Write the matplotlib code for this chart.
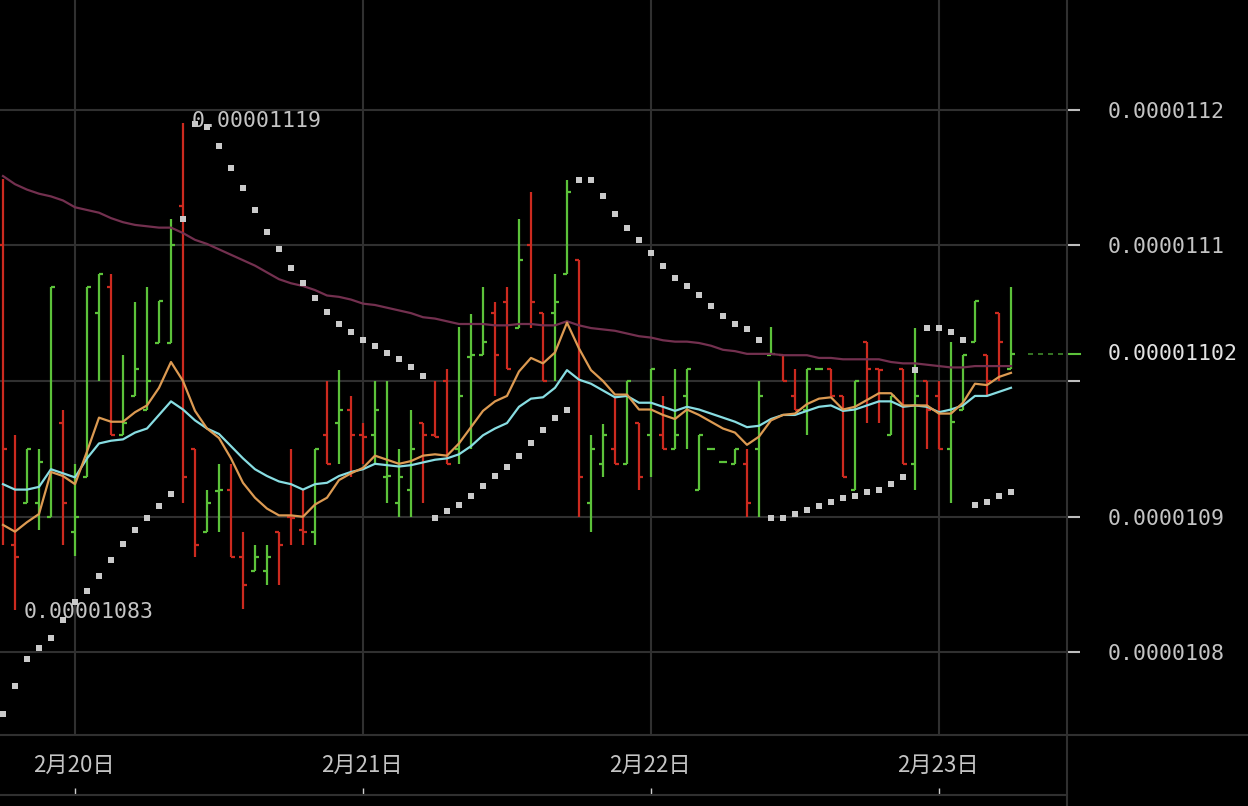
import numpy as np
import pandas as pd
import matplotlib
matplotlib.use("Agg")
import matplotlib.pyplot as plt
import matplotlib.dates as mdates
from matplotlib.lines import Line2D

# hourly OHLC bars, prices in units of 1e-8
opens = [
    1110.0, 1087.9, 1091.0, 1091.0, 1090.0, 1096.9, 1088.9, 1092.9, 1105.0, 1106.9,
    1096.0, 1098.9, 1097.9, 1102.8, 1102.8, 1112.9, 1095.0, 1088.9, 1091.9, 1092.0,
    1087.0, 1086.0, 1086.0, 1088.9, 1090.0, 1089.0, 1088.9, 1096.0, 1096.9, 1097.9,
    1096.0, 1096.0, 1092.9, 1091.0, 1092.0, 1096.9, 1096.0, 1100.0, 1095.0, 1101.8,
    1101.9, 1105.0, 1105.8, 1103.9, 1110.0, 1105.0, 1105.0, 1107.9, 1108.9, 1091.0,
    1093.9, 1095.0, 1093.9, 1096.9, 1096.0, 1096.0, 1095.0, 1098.9, 1092.0, 1095.0,
    1094.0, 1093.9, 1093.9, 1095.0, 1101.9, 1101.9, 1098.9, 1097.9, 1100.9, 1100.9,
    1098.9, 1092.0, 1102.9, 1100.9, 1096.0, 1100.9, 1093.9, 1100.0, 1098.9, 1095.0,
    1097.9, 1102.9, 1101.9, 1105.0, 1100.9]
highs = [
    1114.9, 1096.0, 1095.0, 1095.0, 1106.9, 1097.9, 1093.9, 1106.9, 1107.9, 1107.9,
    1101.9, 1105.8, 1106.9, 1105.9, 1111.9, 1119.0, 1095.0, 1092.0, 1093.9, 1093.9,
    1088.9, 1087.9, 1087.9, 1088.9, 1095.0, 1092.0, 1095.0, 1100.0, 1100.8, 1098.9,
    1096.9, 1100.0, 1100.0, 1095.0, 1097.9, 1096.9, 1100.0, 1100.9, 1104.0, 1104.9,
    1106.9, 1105.8, 1106.9, 1111.9, 1113.9, 1105.0, 1107.9, 1114.8, 1108.9, 1096.0,
    1096.8, 1098.9, 1100.0, 1096.9, 1100.9, 1098.9, 1100.9, 1100.9, 1096.0, 1095.0,
    1094.0, 1095.0, 1095.0, 1100.0, 1104.0, 1101.9, 1100.9, 1100.9, 1100.9, 1100.9,
    1098.9, 1100.0, 1102.9, 1100.9, 1098.9, 1100.9, 1103.9, 1100.0, 1100.0, 1102.9,
    1101.9, 1105.9, 1101.9, 1105.0, 1106.9]
lows = [
    1087.9, 1083.1, 1091.0, 1089.0, 1090.0, 1087.9, 1087.1, 1092.9, 1100.0, 1096.0,
    1096.0, 1098.9, 1097.9, 1102.8, 1102.8, 1091.0, 1087.0, 1088.9, 1088.9, 1087.0,
    1083.2, 1086.0, 1085.0, 1085.0, 1087.9, 1087.9, 1087.9, 1093.9, 1093.9, 1092.9,
    1093.9, 1093.9, 1091.0, 1090.0, 1090.0, 1091.0, 1095.9, 1093.9, 1093.9, 1095.0,
    1101.9, 1098.9, 1100.9, 1103.9, 1103.9, 1100.0, 1100.0, 1107.9, 1090.0, 1088.9,
    1092.9, 1093.9, 1093.9, 1092.0, 1092.9, 1095.0, 1095.0, 1095.0, 1092.0, 1095.0,
    1094.0, 1093.9, 1090.0, 1090.0, 1101.9, 1100.0, 1097.9, 1096.0, 1100.9, 1098.9,
    1092.9, 1092.0, 1096.9, 1096.9, 1096.0, 1093.9, 1092.0, 1095.0, 1095.0, 1091.0,
    1097.9, 1102.9, 1098.9, 1100.0, 1100.9]
closes = [
    1095.0, 1087.0, 1095.0, 1094.0, 1106.9, 1091.0, 1090.0, 1106.9, 1107.9, 1096.0,
    1096.9, 1100.9, 1100.0, 1105.9, 1110.0, 1092.9, 1087.9, 1091.0, 1092.0, 1087.0,
    1085.0, 1087.0, 1087.0, 1087.9, 1089.9, 1088.9, 1095.0, 1093.9, 1097.9, 1096.0,
    1095.9, 1097.9, 1093.0, 1092.9, 1095.0, 1096.0, 1095.9, 1093.9, 1098.9, 1101.9,
    1102.9, 1101.9, 1100.9, 1108.9, 1105.8, 1100.0, 1105.8, 1113.9, 1092.9, 1095.0,
    1096.0, 1093.9, 1100.0, 1092.9, 1100.9, 1095.0, 1096.0, 1100.9, 1096.0, 1095.0,
    1094.0, 1095.0, 1091.0, 1098.9, 1102.0, 1100.0, 1097.9, 1100.9, 1100.9, 1098.9,
    1092.9, 1100.0, 1100.9, 1100.8, 1098.9, 1093.9, 1098.9, 1097.9, 1095.0, 1097.0,
    1101.9, 1105.9, 1100.0, 1102.9, 1102.0]

# moving averages as drawn (short / medium / long)
ma_short = [
    1089.4, 1088.9, 1089.6, 1090.2, 1093.3, 1093.0, 1092.4, 1094.8, 1097.3, 1097.0,
    1097.0, 1097.7, 1098.2, 1099.5, 1101.4, 1100.0, 1097.8, 1096.5, 1095.8, 1094.3,
    1092.5, 1091.4, 1090.6, 1090.1, 1090.1, 1090.0, 1090.9, 1091.4, 1092.7, 1093.2,
    1093.6, 1094.5, 1094.2, 1093.9, 1094.1, 1094.5, 1094.6, 1094.5, 1095.4, 1096.6,
    1097.8, 1098.5, 1098.9, 1100.7, 1101.7, 1101.3, 1102.1, 1104.3, 1102.4, 1100.8,
    1100.0, 1099.0, 1099.0, 1097.9, 1097.9, 1097.5, 1097.2, 1097.9, 1097.5, 1097.0,
    1096.5, 1096.2, 1095.3, 1095.9, 1097.1, 1097.5, 1097.6, 1098.3, 1098.7, 1098.8,
    1097.9, 1098.1, 1098.6, 1099.1, 1099.1, 1098.2, 1098.2, 1098.2, 1097.6, 1097.6,
    1098.4, 1099.8, 1099.7, 1100.3, 1100.6]
ma_mid = [
    1092.4, 1092.0, 1092.0, 1092.2, 1093.5, 1093.2, 1092.9, 1094.3, 1095.4, 1095.6,
    1095.7, 1096.2, 1096.5, 1097.5, 1098.5, 1097.9, 1097.1, 1096.5, 1096.1, 1095.2,
    1094.3, 1093.5, 1093.0, 1092.6, 1092.4, 1092.0, 1092.4, 1092.5, 1093.0, 1093.3,
    1093.5, 1093.9, 1093.8, 1093.7, 1093.8, 1094.0, 1094.2, 1094.3, 1094.6, 1095.2,
    1096.0, 1096.5, 1096.9, 1098.1, 1098.7, 1098.8, 1099.5, 1100.8, 1100.1, 1099.8,
    1099.3, 1098.8, 1098.9, 1098.4, 1098.4, 1098.1, 1097.8, 1098.1, 1097.9, 1097.6,
    1097.3, 1097.0, 1096.6, 1096.7, 1097.2, 1097.5, 1097.5, 1097.8, 1098.1, 1098.2,
    1097.8, 1097.9, 1098.2, 1098.5, 1098.5, 1098.1, 1098.2, 1098.1, 1097.7, 1097.9,
    1098.2, 1098.9, 1098.9, 1099.2, 1099.5]
ma_long = [
    1115.1, 1114.5, 1114.1, 1113.8, 1113.6, 1113.3, 1112.8, 1112.6, 1112.4, 1112.0,
    1111.7, 1111.5, 1111.4, 1111.3, 1111.3, 1110.9, 1110.4, 1110.1, 1109.7, 1109.3,
    1108.9, 1108.5, 1108.0, 1107.5, 1107.2, 1107.0, 1106.7, 1106.3, 1106.2, 1106.0,
    1105.7, 1105.6, 1105.4, 1105.2, 1105.0, 1104.7, 1104.6, 1104.4, 1104.2, 1104.2,
    1104.2, 1104.1, 1104.1, 1104.2, 1104.2, 1104.1, 1104.1, 1104.4, 1104.1, 1103.9,
    1103.8, 1103.7, 1103.5, 1103.3, 1103.2, 1103.0, 1102.9, 1102.9, 1102.8, 1102.6,
    1102.3, 1102.2, 1102.0, 1102.0, 1102.0, 1101.9, 1101.9, 1101.9, 1101.7, 1101.7,
    1101.6, 1101.6, 1101.6, 1101.6, 1101.4, 1101.3, 1101.3, 1101.2, 1101.1, 1101.0,
    1101.0, 1101.1, 1101.1, 1101.1, 1101.1]

# parabolic SAR dots
sar = [
    1075.5, 1077.5, 1079.5, 1080.3, 1081.1, 1082.4, 1083.7, 1084.5, 1085.6, 1086.8,
    1088.0, 1089.0, 1089.9, 1090.8, 1091.7, 1111.9, 1118.9, 1118.7, 1117.3, 1115.7,
    1114.2, 1112.6, 1111.0, 1109.7, 1108.3, 1107.2, 1106.1, 1105.1, 1104.2, 1103.6,
    1103.0, 1102.6, 1102.1, 1101.6, 1101.0, 1100.4, 1089.9, 1090.4, 1090.9, 1091.5,
    1092.3, 1093.0, 1093.7, 1094.5, 1095.4, 1096.4, 1097.3, 1097.9, 1114.8, 1114.8,
    1113.6, 1112.3, 1111.3, 1110.4, 1109.4, 1108.5, 1107.6, 1107.0, 1106.3, 1105.5,
    1104.8, 1104.2, 1103.8, 1103.0, 1089.9, 1089.9, 1090.2, 1090.5, 1090.8, 1091.1,
    1091.4, 1091.5, 1091.8, 1092.0, 1092.4, 1092.9, 1100.8, 1103.9, 1103.9, 1103.6,
    1103.0, 1090.9, 1091.1, 1091.5, 1091.8]

price_ticks = [1080, 1090, 1100, 1110, 1120]
# the 1100 label is hidden behind the last-price label in the original
price_labels = ["0.0000108", "0.0000109", "", "0.0000111", "0.0000112"]
day_labels = ["2月20日", "2月21日", "2月22日", "2月23日"]
days = pd.to_datetime(["2021-02-20", "2021-02-21", "2021-02-22", "2021-02-23"])

GREEN = "#5cc23a"
RED = "#cc2a1f"
ORANGE = "#dc9a52"
CYAN = "#88dde2"
MAROON = "#73304f"
DOTS = "#cacaca"
GRID = "#303030"
TEXT = "#c4c4c4"
MONO = "DejaVu Sans Mono"

sc = 1e-8
times = pd.date_range("2021-02-19 18:00", periods=len(opens), freq="h")
x = mdates.date2num(times)
o, h, l, c = [np.array(v) * sc for v in (opens, highs, lows, closes)]
bar = 1 / 24
cols = np.where(c >= o, GREEN, RED)

W, H = 1248, 806
fig = plt.figure(figsize=(W / 100, H / 100), dpi=100, facecolor="black")
ax = fig.add_axes([0, 71 / H, 1067 / W, 735 / H], facecolor="black")

ax.vlines(x, l, h, colors=cols, lw=1.6, zorder=3)
ax.hlines(o, x - 0.3 * bar, x, colors=cols, lw=1.6, zorder=3)
ax.hlines(c, x, x + 0.3 * bar, colors=cols, lw=1.6, zorder=3)

ax.plot(x, np.array(ma_long) * sc, color=MAROON, lw=1.6, zorder=4)
ax.plot(x, np.array(ma_mid) * sc, color=CYAN, lw=1.6, zorder=4)
ax.plot(x, np.array(ma_short) * sc, color=ORANGE, lw=1.6, zorder=5)
ax.plot(x, np.array(sar) * sc, ls="none", marker="s", ms=3.7, mew=0, color=DOTS, zorder=6)

x0, x1 = x[0] - 0.25 * bar, x[0] + 88.67 * bar
ax.set_xlim(x0, x1)
ax.set_ylim(1073.92 * sc, 1128.07 * sc)

# grid and axes
ax.set_xticks(mdates.date2num(days))
ax.tick_params(axis="x", length=0, labelbottom=False)
ax.set_yticks(np.array(price_ticks) * sc)
ax.set_yticklabels(price_labels)
ax.yaxis.tick_right()
ax.tick_params(axis="y", length=9.4, width=1.5, color="#bdbdbd", pad=20,
               labelcolor=TEXT, labelsize=15.5)
for t in ax.get_yticklabels():
    t.set_family(MONO)
ax.grid(True, color=GRID, lw=1.5)
ax.set_axisbelow(True)
for s in ax.spines.values():
    s.set_visible(False)

# high / low labels
hi = int(np.argmax(highs))
lo = int(np.argmin(lows))
ax.annotate(f"{highs[hi] * sc:.8f}", xy=(x[hi], h[hi]), xytext=(6.5, 1.5),
            textcoords="offset points", va="center", ha="left",
            color=TEXT, fontsize=15.5, family=MONO, zorder=7)
ax.annotate(f"{lows[lo] * sc:.8f}", xy=(x[lo], l[lo]), xytext=(6.5, -1),
            textcoords="offset points", va="center", ha="left",
            color=TEXT, fontsize=15.5, family=MONO, zorder=7)

# last price marker
ax.hlines(c[-1], x[-1] + 1.4 * bar, x1, colors="#3f8a2a", lw=1.2, linestyles=(0, (3, 3)))
ax.add_line(Line2D([1, 1 + 13 / 1067], [c[-1], c[-1]], transform=ax.get_yaxis_transform(),
                   color=GREEN, lw=1.5, clip_on=False))
ax.text(1 + 41 / 1067, c[-1], f"{closes[-1] * sc:.8f}", transform=ax.get_yaxis_transform(),
        va="center", ha="left", color="#e2e2e2", fontsize=15.5, family=MONO, clip_on=False)

# date strip
ax2 = fig.add_axes([0, 11 / H, 1067 / W, 60 / H], facecolor="black")
ax2.set_xlim(x0, x1)
ax2.set_ylim(0, 1)
ax2.set_xticks(mdates.date2num(days))
ax2.set_yticks([])
ax2.tick_params(axis="x", direction="in", length=5, width=1, color="#cfcfcf", labelbottom=False)
for k, s in ax2.spines.items():
    s.set_visible(k == "bottom")
ax2.spines["bottom"].set_color(GRID)
ax2.spines["bottom"].set_linewidth(1.5)
for d, lab in zip(mdates.date2num(days), day_labels):
    ax2.text(d - 0.1 * bar, 0.5, lab, transform=ax2.get_xaxis_transform(), ha="center",
             va="center", fontsize=16, color=TEXT, family=["Noto Sans CJK JP", "DejaVu Sans"])

fig.add_artist(Line2D([1067 / W] * 2, [0, 1], color=GRID, lw=1.5))
fig.add_artist(Line2D([0, 1], [71 / H] * 2, color=GRID, lw=1.5))

fig.savefig("out.png", dpi=100, facecolor="black")
